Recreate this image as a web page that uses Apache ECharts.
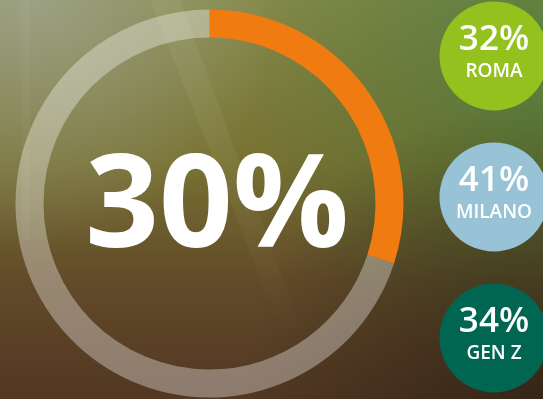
<!DOCTYPE html>
<html>
<head>
<meta charset="utf-8">
<script src="https://cdn.jsdelivr.net/npm/echarts@6/dist/echarts.min.js"></script>
<style>
html,body{margin:0;padding:0;background:#5d5a30;}
#chart{width:543px;height:399px;}
</style>
</head>
<body>
<div id="chart"></div>
<script>
// ---- data ----
var mainValue = 30;
var mainRest = 100 - mainValue;
var groupNames = ['ROMA', 'MILANO', 'GEN Z'];
var groupValues = [32, 41, 34];
var groupColors = ['#95c11f', '#98c2d6', '#006652'];

var FONT = '"Open Sans", Lato, sans-serif';

var chart = echarts.init(document.getElementById('chart'), null, {renderer: 'canvas'});

function rg(cx, cy, r, stops) {
  return {type: 'radial', x: cx, y: cy, r: r, global: true, colorStops: stops};
}

var bg = [
  {type: 'rect', z: -10, silent: true, shape: {x: 0, y: 0, width: 543, height: 399},
   style: {fill: {type: 'linear', x: 0, y: 0, x2: 0, y2: 1, colorStops: [
     {offset: 0, color: '#868a4a'}, {offset: 0.4, color: '#787232'},
     {offset: 0.7, color: '#624b29'}, {offset: 1, color: '#523723'}]}}},
  {type: 'rect', z: -9, silent: true, shape: {x: 0, y: 0, width: 543, height: 399},
   style: {fill: rg(560, 60, 320, [{offset: 0, color: 'rgba(70,125,60,0.7)'}, {offset: 1, color: 'rgba(60,110,50,0)'}])}},
  {type: 'rect', z: -8, silent: true, shape: {x: 0, y: 0, width: 543, height: 399},
   style: {fill: rg(543, 399, 300, [{offset: 0, color: 'rgba(40,30,18,0.7)'}, {offset: 1, color: 'rgba(40,30,18,0)'}])}},
  {type: 'rect', z: -7, silent: true, shape: {x: 0, y: 0, width: 543, height: 399},
   style: {fill: rg(30, 0, 250, [{offset: 0, color: 'rgba(175,180,180,0.55)'}, {offset: 1, color: 'rgba(175,180,180,0)'}])}},
  {type: 'polygon', z: -6, silent: true, shape: {points: [[150, 0], [180, 0], [305, 340], [285, 340]]},
   style: {fill: {type: 'linear', x: 0, y: 0, x2: 0, y2: 1, colorStops: [
     {offset: 0, color: 'rgba(255,255,230,0.05)'}, {offset: 0.5, color: 'rgba(255,255,230,0.05)'}, {offset: 1, color: 'rgba(255,255,230,0)'}]}}},
  {type: 'polygon', z: -6, silent: true, shape: {points: [[20, 0], [30, 0], [30, 240], [22, 240]]},
   style: {fill: 'rgba(255,255,255,0.03)'}},
  {type: 'text', z: 10, silent: true, x: 217, y: 210,
   style: {text: mainValue + '%', fill: '#ffffff', font: '700 129px ' + FONT,
           align: 'center', verticalAlign: 'middle'}}
];

var option = {
  animation: false,
  backgroundColor: 'transparent',
  graphic: bg,
  grid: {left: 445, width: 98, top: 56, bottom: 61, containLabel: false},
  xAxis: {type: 'category', data: ['g'], show: false, boundaryGap: true},
  yAxis: {type: 'category', data: groupNames, inverse: true, show: false, boundaryGap: false},
  series: [
    {
      type: 'pie',
      silent: true,
      center: [209.5, 203.5],
      radius: [166, 194],
      startAngle: 90,
      clockwise: true,
      label: {show: false},
      labelLine: {show: false},
      emphasis: {disabled: true},
      data: [
        {value: mainValue, name: 'main', itemStyle: {color: '#ef7b11'}},
        {value: mainRest, name: 'rest', itemStyle: {color: 'rgba(255,255,255,0.34)'}}
      ]
    },
    {
      type: 'scatter',
      silent: true,
      symbol: 'circle',
      symbolSize: 109,
      itemStyle: {opacity: 1},
      emphasis: {disabled: true},
      data: groupNames.map(function (n, i) {
        return {value: ['g', n], itemStyle: {color: groupColors[i], opacity: 1}};
      }),
      label: {
        show: true,
        position: 'inside',
        formatter: function (p) {
          return '{v|' + groupValues[p.dataIndex] + '%}\n{n|' + groupNames[p.dataIndex] + '}';
        },
        rich: {
          v: {fontFamily: FONT, fontWeight: 600, fontSize: 35, color: '#fff', lineHeight: 31, align: 'center'},
          n: {fontFamily: FONT, fontWeight: 600, fontSize: 19, color: '#fff', lineHeight: 31, align: 'center'}
        }
      }
    }
  ]
};
chart.setOption(option);
</script>
</body>
</html>
